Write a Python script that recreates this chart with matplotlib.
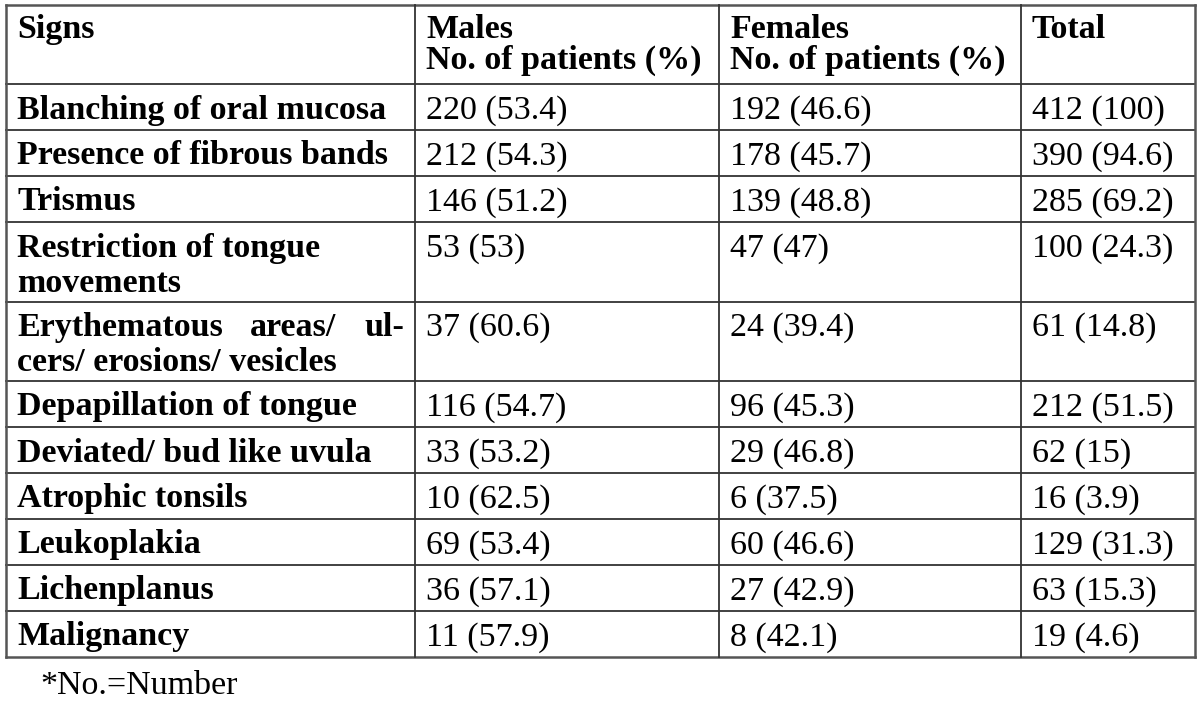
import matplotlib
matplotlib.use('Agg')
import matplotlib.pyplot as plt

# table data
headers = ['Signs', 'Males\nNo. of patients (%)', 'Females\nNo. of patients (%)', 'Total']
signs = ['Blanching of oral mucosa', 'Presence of fibrous bands', 'Trismus',
         'Restriction of tongue\nmovements',
         'Erythematous areas/ ul-\ncers/ erosions/ vesicles',
         'Depapillation of tongue', 'Deviated/ bud like uvula', 'Atrophic tonsils',
         'Leukoplakia', 'Lichenplanus', 'Malignancy']
males_n = [220, 212, 146, 53, 37, 116, 33, 10, 69, 36, 11]
males_pct = [53.4, 54.3, 51.2, 53, 60.6, 54.7, 53.2, 62.5, 53.4, 57.1, 57.9]
females_n = [192, 178, 139, 47, 24, 96, 29, 6, 60, 27, 8]
females_pct = [46.6, 45.7, 48.8, 47, 39.4, 45.3, 46.8, 37.5, 46.6, 42.9, 42.1]
total_n = [412, 390, 285, 100, 61, 212, 62, 16, 129, 63, 19]
total_pct = [100, 94.6, 69.2, 24.3, 14.8, 51.5, 15, 3.9, 31.3, 15.3, 4.6]
footnote = '*No.=Number'

# layout (pixels)
W, H = 1200, 704
col_x = [6, 415, 719, 1021, 1195]
top = 5
head_h = 79
line_h = 46
two_line_h = 79.5
pad = 11
base_off = 34.5
head_lead = 31
body_lead = 35
fs = 24.5
font = 'Liberation Serif'
lc = '#333333'

fig = plt.figure(figsize=(W / 100, H / 100), dpi=100)
ax = fig.add_axes([0, 0, 1, 1])
ax.set_xlim(0, W)
ax.set_ylim(H, 0)
ax.axis('off')

fmt = lambda n, p: '%d (%g)' % (n, p)

# row boundaries
rows_y = [top, top + head_h]
for s in signs:
    h = two_line_h if '\n' in s else line_h
    rows_y.append(rows_y[-1] + h)

# grid
for i, y in enumerate(rows_y):
    outer = i == 0 or i == len(rows_y) - 1
    ax.plot([col_x[0], col_x[-1]], [y, y], color='#555555' if outer else lc,
            lw=1.8 if outer else 1.3, solid_capstyle='projecting')
for i, x in enumerate(col_x):
    outer = i == 0 or i == len(col_x) - 1
    ax.plot([x, x], [rows_y[0], rows_y[-1]], color='#555555' if outer else lc,
            lw=1.8 if outer else 1.3, solid_capstyle='projecting')

fig.canvas.draw()
renderer = fig.canvas.get_renderer()


def put(x, y, s, bold=False, ha='left'):
    return ax.text(x, y, s, fontsize=fs, family=font, ha=ha, va='baseline',
                   fontweight='bold' if bold else 'normal', color='black')


def put_justified(x0, x1, y, s, bold=True):
    # spread the words of a line over the cell width
    words = s.split()
    objs = [put(x0, y, w, bold) for w in words]
    inv = ax.transData.inverted()
    widths = []
    for t in objs:
        bb = t.get_window_extent(renderer)
        widths.append(inv.transform((bb.x1, 0))[0] - inv.transform((bb.x0, 0))[0])
    gap = (x1 - x0 - sum(widths)) / (len(words) - 1)
    x = x0
    for t, w in zip(objs, widths):
        t.set_x(x)
        x += w + gap


# header
for j, h in enumerate(headers):
    for k, ln in enumerate(h.split('\n')):
        put(col_x[j] + pad, top + 33 + k * head_lead, ln, bold=True)

# body
for i, s in enumerate(signs):
    y0 = rows_y[i + 1] + base_off
    for k, ln in enumerate(s.split('\n')):
        if k == 0 and ln.endswith('-'):
            put_justified(col_x[0] + pad, col_x[1] - pad, y0, ln)
        else:
            put(col_x[0] + pad, y0 + k * body_lead, ln, bold=True)
    put(col_x[1] + pad, y0, fmt(males_n[i], males_pct[i]))
    put(col_x[2] + pad, y0, fmt(females_n[i], females_pct[i]))
    put(col_x[3] + pad, y0, fmt(total_n[i], total_pct[i]))

put(40, rows_y[-1] + 37, footnote)

fig.savefig('out.png', dpi=100, facecolor='white')
